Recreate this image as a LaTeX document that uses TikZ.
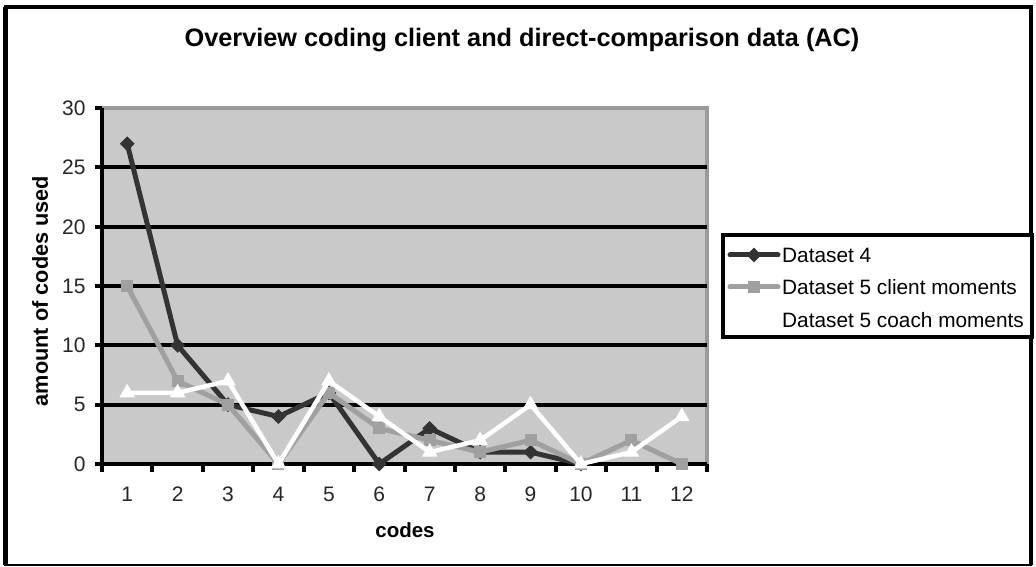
\documentclass[tikz,border=0pt]{standalone}
\usepackage{fontspec}
\setmainfont{Liberation Sans}
\usetikzlibrary{shapes.geometric}
\definecolor{plotbg}{HTML}{C9C9C9}
\definecolor{plotedge}{HTML}{9A9A9A}
\definecolor{darkser}{HTML}{333333}
\definecolor{grayser}{HTML}{A0A0A0}
\tikzset{
  gridline/.style={black, line width=4pt},
  axisline/.style={black, line width=4.5pt},
  ser4/.style={darkser, line width=5pt, line join=round, line cap=round},
  ser5a/.style={grayser, line width=5pt, line join=round, line cap=round},
  ser5b/.style={white, line width=4.5pt, line join=round, line cap=round},
  mk4/.style={diamond, fill=darkser, minimum size=15pt, inner sep=0pt},
  mk5a/.style={rectangle, fill=grayser, minimum size=12pt, inner sep=0pt},
  mk5b/.style={regular polygon, regular polygon sides=3, fill=white, minimum size=18pt, inner sep=0pt},
  ticklab/.style={font=\fontsize{21}{23}\selectfont, text=black!85},
  axlab/.style={font=\fontsize{21}{23}\bfseries\selectfont},
  leglab/.style={font=\fontsize{20.8}{22}\selectfont, anchor=west, inner sep=0pt}
}
\begin{document}
\begin{tikzpicture}[x=1pt,y=1pt]
\useasboundingbox (-102,-103) rectangle (934,464);
\fill[white] (-102,-103) rectangle (934,464);
% outer frame
\draw[black, line width=5pt] (-96,-101) -- (-96,457);
\draw[black, line width=4pt] (-98,457) -- (929,457);
\draw[black, line width=3.5pt] (929,459) -- (929,-101);
\draw[black, line width=2pt] (-98,-101) -- (930,-101);
% title
\node[font=\fontsize{25.3}{27}\bfseries\selectfont] (title) at (420,424) {Overview coding client and direct-comparison data (AC)};
% plot area
\fill[plotbg] (0,0) rectangle (605,356);
\draw[plotedge, line width=4pt] (0,356) -- (605,356) -- (605,0);
\begin{scope}[x=50.42pt,y=11.86pt]
  \foreach \v in {5,10,...,25} {\draw[gridline] (0,\v) -- (12,\v);}
  \draw[axisline] (0,0) -- (0,30);
  \draw[axisline] (0,0) -- (12,0);
  \foreach \v in {0,5,...,30} {
    \draw[black, line width=4pt] (-7pt,\v) -- (0,\v);
    \node[ticklab, anchor=east] (yl\v) at (-13pt,\v) {\v};
  }
  \foreach \i in {0,...,12} {\draw[black, line width=4pt] (\i,0) -- ([yshift=-8pt]\i,0);}
  \foreach \i in {1,...,12} {\node[ticklab] (xl\i) at ([yshift=-30pt]\i-0.5,0) {\i};}
  % data coordinates
  \foreach \v [count=\i] in {27,10,5,4,6,0,3,1,1,0} {\coordinate (a\i) at (\i-0.5,\v);}
  \foreach \v [count=\i] in {15,7,5,0,6,3,2,1,2,0,2,0} {\coordinate (b\i) at (\i-0.5,\v);}
  \foreach \v [count=\i] in {6,6,7,0,7,4,1,2,5,0,1,4} {\coordinate (c\i) at (\i-0.5,\v);}
  % Dataset 4
  \draw[ser4] (a1)--(a2)--(a3)--(a4)--(a5)--(a6)--(a7)--(a8)--(a9)--(a10);
  \foreach \i in {1,...,10} {\node[mk4] (ma\i) at (a\i) {};}
  % Dataset 5 client
  \draw[ser5a] (b1)--(b2)--(b3)--(b4)--(b5)--(b6)--(b7)--(b8)--(b9)--(b10)--(b11)--(b12);
  \foreach \i in {1,...,12} {\node[mk5a] (mb\i) at (b\i) {};}
  % Dataset 5 coach
  \draw[ser5b] (c1)--(c2)--(c3)--(c4)--(c5)--(c6)--(c7)--(c8)--(c9)--(c10)--(c11)--(c12);
  \foreach \i in {1,...,12} {\node[mk5b] (mc\i) at (c\i) {};}
\end{scope}
% axis labels
\node[axlab, font=\fontsize{21.7}{23}\bfseries\selectfont, rotate=90] (ylab) at (-62,173) {amount of codes used};
\node[axlab, font=\fontsize{20.5}{22}\bfseries\selectfont] (xlab) at (303,-66) {codes};
% legend
\draw[black, line width=4pt, fill=white] (621,127) rectangle (930,229);
\coordinate (l1a) at (628,209); \coordinate (l1b) at (676,209);
\coordinate (l2a) at (628,177); \coordinate (l2b) at (676,177);
\coordinate (l3a) at (628,144); \coordinate (l3b) at (676,144);
\draw[ser4] (l1a) -- (l1b); \node[mk4] (lm1) at (652,209) {};
\draw[ser5a] (l2a) -- (l2b); \node[mk5a] (lm2) at (652,177) {};
\draw[ser5b] (l3a) -- (l3b); \node[mk5b] (lm3) at (652,144) {};
\node[leglab] (lt1) at (680,209) {Dataset 4};
\node[leglab] (lt2) at (680,177) {Dataset 5 client moments};
\node[leglab] (lt3) at (680,144) {Dataset 5 coach moments};
\end{tikzpicture}
\end{document}
